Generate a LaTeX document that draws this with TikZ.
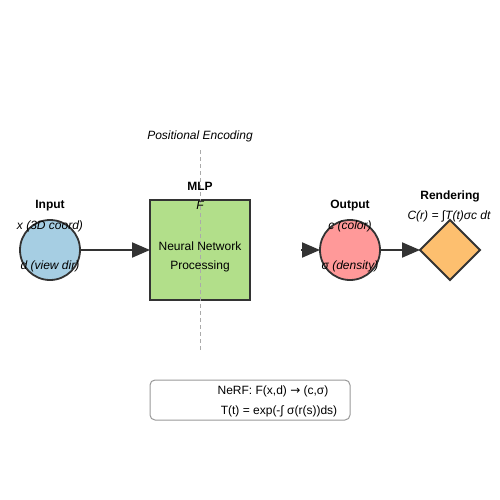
\documentclass[tikz,border=0pt]{standalone}
\usepackage{fontspec}
\setmainfont{Liberation Sans}
\newfontfamily\symfont{DejaVu Sans}
\usetikzlibrary{arrows.meta,shapes.geometric}
\definecolor{edge}{HTML}{333333}
\definecolor{inblue}{HTML}{A6CEE3}
\definecolor{mlpgreen}{HTML}{B2DF8A}
\definecolor{outred}{HTML}{FF9999}
\definecolor{rendorange}{HTML}{FDBF6F}
\definecolor{dashgray}{HTML}{AAAAAA}
\definecolor{boxgray}{HTML}{999999}
\begin{document}
\begin{tikzpicture}[x=1pt,y=-1pt,
  every node/.style={inner sep=0pt,outer sep=0pt,font=\fontsize{12}{14}\selectfont},
  shapebox/.style={draw=edge,line width=1.8pt},
  title/.style={font=\fontsize{12}{14}\selectfont\bfseries},
  ital/.style={font=\fontsize{12}{14}\selectfont\itshape},
  arr/.style={draw=edge,line width=2pt,-{Triangle[length=18pt,width=15pt]}}]
\useasboundingbox (0,0) rectangle (500,500);
% shapes
\node[shapebox,circle,fill=inblue,minimum size=60pt] (in) at (50,250) {};
\node[shapebox,rectangle,fill=mlpgreen,minimum width=100pt,minimum height=100pt] (mlp) at (200,250) {};
\node[shapebox,circle,fill=outred,minimum size=60pt] (out) at (350,250) {};
\node[shapebox,diamond,aspect=1,fill=rendorange,minimum width=60pt,minimum height=60pt] (rend) at (450,250) {};
% dashed line
\coordinate (pt) at (200,150);
\coordinate (pb) at (200,350);
\draw[dashgray,line width=1pt,dash pattern=on 4pt off 3pt] (pt) -- (pb);
% connectors
\coordinate (gap) at (301,250);
\draw[arr] (in) -- (mlp);
\draw[arr] (gap) -- (out);
\draw[arr] (out) -- (rend);
% labels
\node[title] (tin) at (50,206) {Input};
\node[ital] (tx) at (50,226) {x (3D coord)};
\node[ital] (td) at (50,266) {d (view dir)};
\node[ital] (tpe) at (200,136) {Positional Encoding};
\node[title] (tmlp) at (200,186) {MLP};
\node[ital] (tf) at (200,205) {F};
\node (tnn) at (200,246) {Neural Network};
\node (tproc) at (200,266) {Processing};
\node[title] (tout) at (350,206) {Output};
\node[ital] (tc) at (350,226) {c (color)};
\node[ital] (ts) at (350,266) {σ (density)};
\node[title] (trend) at (450,196) {Rendering};
\node[ital] (tcr) at (449,216) {C(r) = ∫T(t)σc dt};
% formula box
\node[draw=boxgray,line width=1pt,rounded corners=5pt,fill=white,minimum width=200pt,minimum height=40pt] (fbox) at (250,400) {};
\node (f1) at (273,391) {NeRF: F(x,d) {\symfont →} (c,σ)};
\node (f2) at (279,411) {T(t) = exp(-∫ σ(r(s))ds)};
\end{tikzpicture}
\end{document}
